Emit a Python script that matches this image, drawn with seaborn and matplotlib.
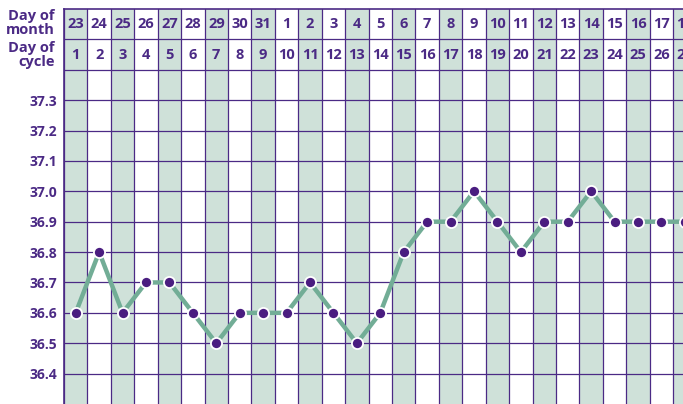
import seaborn as sns
import matplotlib.pyplot as plt
import pandas as pd

# data
CYCLE_DAYS = list(range(1, 28))
MONTH_DAYS = [23, 24, 25, 26, 27, 28, 29, 30, 31, 1, 2, 3, 4, 5, 6, 7, 8, 9,
              10, 11, 12, 13, 14, 15, 16, 17, 18]
TEMPS = [36.6, 36.8, 36.6, 36.7, 36.7, 36.6, 36.5, 36.6, 36.6, 36.6, 36.7,
         36.6, 36.5, 36.6, 36.8, 36.9, 36.9, 37.0, 36.9, 36.8, 36.9, 36.9,
         37.0, 36.9, 36.9, 36.9, 36.9]
Y_TICKS = [36.4, 36.5, 36.6, 36.7, 36.8, 36.9, 37.0, 37.1, 37.2, 37.3]

PURPLE = "#4b2a85"
SHADE = "#cfe1d9"
LINE = "#72ad96"
DOT = "#4a1d80"

sns.set_theme(style="white")
plt.rcParams["font.family"] = ["Open Sans", "DejaVu Sans"]
plt.rcParams["font.weight"] = "bold"

df = pd.DataFrame({"cycle": CYCLE_DAYS, "temp": TEMPS})

W, H = 683, 404
fig = plt.figure(figsize=(W / 100, H / 100), dpi=100)
col_w = 23.43
ax = fig.add_axes([64 / W, 0, 27 * col_w / W, 395 / H])
ax.set_xlim(0.5, 27.5)
ax.set_ylim(36.3, 37.6)

# shaded columns (odd cycle days)
for d in CYCLE_DAYS:
    if d % 2 == 1:
        ax.axvspan(d - 0.5, d + 0.5, color=SHADE, lw=0, zorder=0)

# grid
for d in CYCLE_DAYS:
    ax.axvline(d - 0.5, color=PURPLE, lw=0.9, zorder=1)
for y in Y_TICKS + [37.4, 37.5]:
    ax.axhline(y, color=PURPLE, lw=0.9, zorder=1)

sns.lineplot(data=df, x="cycle", y="temp", ax=ax, color=LINE, lw=3.2,
             marker="o", markersize=8, markerfacecolor=DOT,
             markeredgecolor="white", markeredgewidth=1.3, zorder=3)

# header rows
for c, m in zip(CYCLE_DAYS, MONTH_DAYS):
    ax.text(c, 37.55, str(m), ha="center", va="center", color=PURPLE,
            fontsize=10.5, fontweight="bold")
    ax.text(c, 37.45, str(c), ha="center", va="center", color=PURPLE,
            fontsize=10.5, fontweight="bold")

fig.text(55 / W, 1 - 23 / H, "Day of\nmonth", ha="right", va="center",
         multialignment="right", color=PURPLE, fontsize=10.5,
         fontweight="bold", linespacing=0.95)
fig.text(55 / W, 1 - 55 / H, "Day of\ncycle", ha="right", va="center",
         multialignment="right", color=PURPLE, fontsize=10.5,
         fontweight="bold", linespacing=0.95)

ax.set_yticks(Y_TICKS)
ax.set_yticklabels([f"{v:.1f}" for v in Y_TICKS], color=PURPLE,
                   fontsize=10, fontweight="bold")
ax.tick_params(axis="y", length=0, pad=5)
ax.set_xticks([])
ax.set_xlabel("")
ax.set_ylabel("")
for s in ["left", "top"]:
    ax.spines[s].set_color(PURPLE)
    ax.spines[s].set_linewidth(1.2)
ax.spines["right"].set_visible(False)
ax.spines["bottom"].set_visible(False)

fig.savefig("out.png", dpi=100)
